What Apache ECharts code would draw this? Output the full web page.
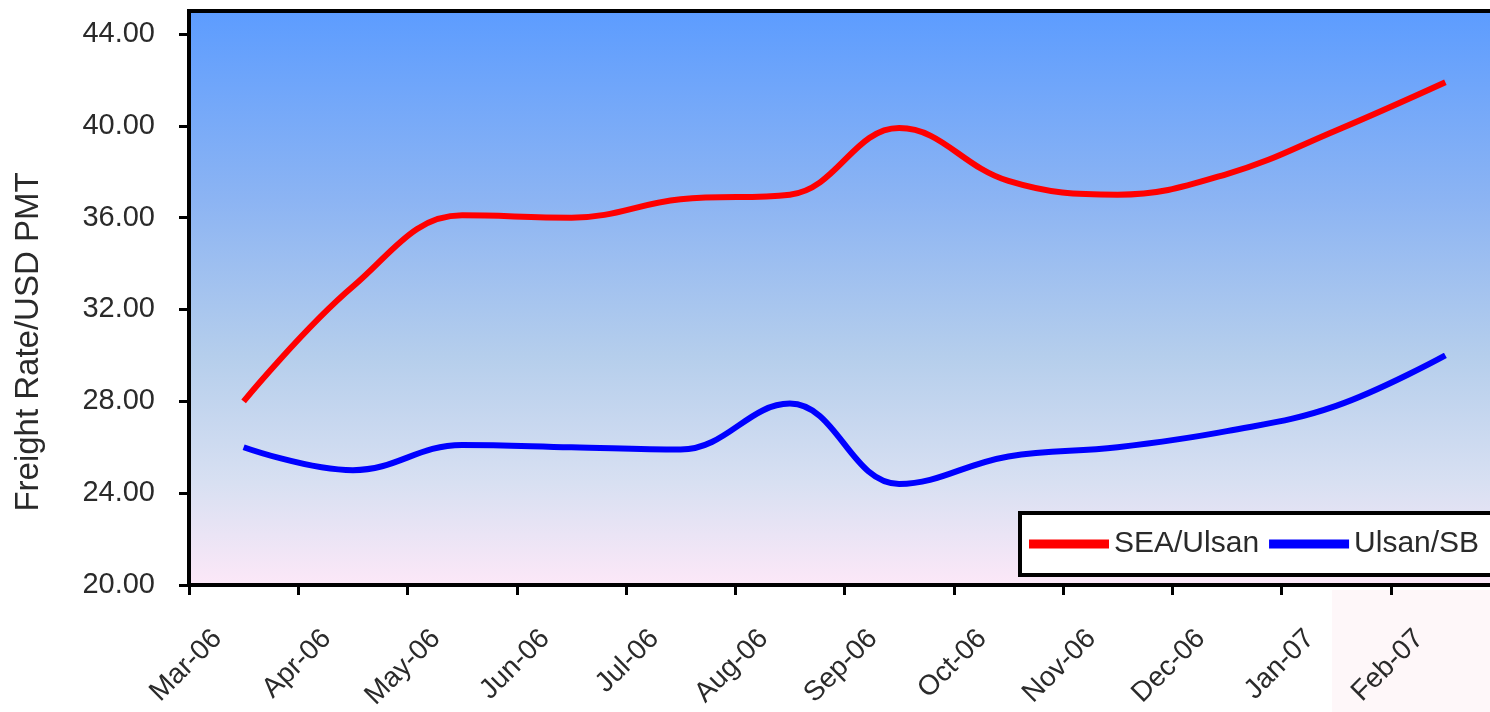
<!DOCTYPE html>
<html>
<head>
<meta charset="utf-8">
<script src="https://cdn.jsdelivr.net/npm/echarts@6/dist/echarts.min.js"></script>
<style>
html,body{margin:0;padding:0;background:#fff;}
#chart{width:1490px;height:712px;}
</style>
</head>
<body>
<div id="chart"></div>
<script>
const categories = ['Mar-06','Apr-06','May-06','Jun-06','Jul-06','Aug-06','Sep-06','Oct-06','Nov-06','Dec-06','Jan-07','Feb-07'];
const seaUlsan = [28.0, 33.0, 36.1, 36.0, 36.8, 37.0, 39.9, 37.6, 37.0, 37.9, 39.8, 41.9];
const ulsanSB  = [26.0, 25.0, 26.1, 26.0, 25.9, 27.9, 24.4, 25.6, 26.0, 26.7, 27.8, 30.0];
const yTicks = [20, 24, 28, 32, 36, 40, 44];
const yTitle = 'Freight Rate/USD PMT';

const chart = echarts.init(document.getElementById('chart'), null, {renderer: 'canvas'});
const font = 'Liberation Sans, Arial, sans-serif';
chart.setOption({
  animation: false,
  backgroundColor: '#ffffff',
  graphic: [{
    type: 'rect', z: -1,
    shape: {x: 1332, y: 590, width: 158, height: 122},
    style: {fill: 'rgba(252,225,232,0.28)'}
  }],
  grid: {
    left: 189, top: 11, right: -10, bottom: 127,
    outerBoundsMode: 'none',
    containLabel: false,
    show: true,
    borderColor: '#000', borderWidth: 4,
    backgroundColor: new echarts.graphic.LinearGradient(0, 0, 0, 1, [
      {offset: 0, color: '#5C9CFF'},
      {offset: 0.33, color: '#8CB4F3'},
      {offset: 0.6, color: '#B5CEEC'},
      {offset: 0.82, color: '#D8E0F2'},
      {offset: 1, color: '#FDE8F8'}
    ])
  },
  legend: {
    left: 1020, top: 513, width: 800,
    orient: 'horizontal',
    icon: 'rect',
    itemWidth: 80, itemHeight: 9, itemGap: 10,
    padding: [16, 30, 16, 9],
    backgroundColor: '#fff',
    borderColor: '#000', borderWidth: 4, borderRadius: 0,
    textStyle: {fontFamily: font, fontSize: 30, color: '#2a2a2a'},
    data: ['SEA/Ulsan', 'Ulsan/SB']
  },
  xAxis: {
    type: 'category',
    data: categories,
    boundaryGap: true,
    axisLine: {lineStyle: {color: '#000', width: 4}},
    axisTick: {show: true, interval: 0, length: 10, lineStyle: {color: '#000', width: 3}},
    axisLabel: {
      interval: 0, rotate: 45, margin: 23,
      padding: [0, 37, 0, 0],
      fontFamily: font, fontSize: 28, color: '#2a2a2a'
    },
    splitLine: {show: false}
  },
  yAxis: {
    type: 'value',
    min: 20, max: 45, interval: 4,
    name: yTitle,
    nameLocation: 'middle',
    nameRotate: 90,
    nameGap: 144,
    nameTextStyle: {fontFamily: font, fontSize: 33, color: '#2a2a2a', padding: [0, 88, 0, 0]},
    axisLine: {show: true, lineStyle: {color: '#000', width: 4}},
    axisTick: {show: true, length: 10, lineStyle: {color: '#000', width: 3}, customValues: yTicks},
    axisLabel: {
      margin: 34, fontFamily: font, fontSize: 29, color: '#2a2a2a',
      customValues: yTicks,
      formatter: v => (v % 4 === 0 ? v.toFixed(2) : '')
    },
    splitLine: {show: false}
  },
  series: [
    {
      name: 'SEA/Ulsan', type: 'line', data: seaUlsan,
      smooth: 0.4, showSymbol: false, symbol: 'none',
      color: '#FF0000',
      lineStyle: {color: '#FF0000', width: 6}
    },
    {
      name: 'Ulsan/SB', type: 'line', data: ulsanSB,
      smooth: 0.4, showSymbol: false, symbol: 'none',
      color: '#0000FF',
      lineStyle: {color: '#0000FF', width: 6}
    }
  ]
});
</script>
</body>
</html>
